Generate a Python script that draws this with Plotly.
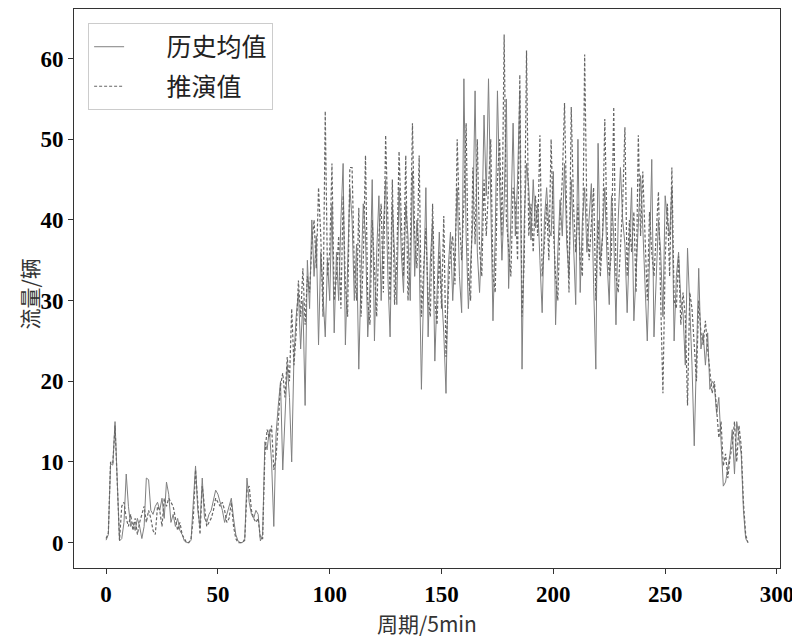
import plotly.graph_objects as go

# ---- data ----
hist_mean = [
    0.3, 1.0, 9.8, 9.6, 15.0, 7.0, 0.2, 0.5, 2.5, 8.5,
    4.5, 2.0, 2.5, 1.5, 3.0, 2.0, 0.5, 2.0, 8.0, 7.8,
    4.0, 3.5, 4.5, 5.0, 4.0, 5.5, 3.0, 7.5, 6.0, 2.5,
    3.5, 2.0, 3.0, 1.5, 1.0, 0.2, 0.0, 0.0, 0.3, 5.0,
    9.5, 4.0, 2.0, 8.0, 3.0, 2.5, 3.5, 4.0, 5.5, 6.5,
    6.0, 5.0, 4.0, 2.5, 3.5, 4.5, 5.5, 3.0, 1.0, 0.2,
    0.0, 0.0, 0.5, 8.0, 5.0, 3.5, 3.0, 4.0, 3.5, 0.2,
    1.0, 12.5, 11.5, 14.0, 10.0, 2.0, 13.5, 17.0, 20.0, 9.0,
    16.0, 22.0, 18.0, 10.0, 23.0, 28.0, 31.0, 24.0, 30.0, 17.0,
    35.0, 29.0, 40.0, 33.0, 38.0, 24.5, 36.0, 30.0, 25.5, 35.0,
    30.0, 42.0, 26.0, 36.0, 30.0, 40.0, 47.0, 24.5, 35.0, 44.0,
    40.0, 30.0, 37.0, 21.5, 33.0, 42.0, 38.0, 25.5, 32.0, 45.0,
    25.0, 36.0, 43.0, 30.0, 39.0, 45.0, 33.0, 25.5, 42.0, 35.0,
    29.5, 44.0, 36.0, 31.0, 42.0, 38.0, 30.0, 46.0, 33.0, 40.0,
    36.0, 19.0, 30.0, 44.0, 25.5, 35.0, 40.0, 22.5, 31.0, 38.5,
    31.0, 26.0, 18.5, 34.0, 38.5, 30.0, 36.0, 44.0, 33.0, 28.5,
    57.5, 38.0, 29.0, 35.0, 40.0, 56.0, 36.0, 31.0, 38.0, 53.0,
    43.0, 57.5, 40.0, 27.5, 38.0, 56.0, 44.0, 35.0, 42.0, 55.0,
    31.5, 40.0, 52.0, 38.0, 45.0, 56.0, 21.5, 40.0, 47.0, 44.0,
    37.5, 45.0, 39.0, 42.0, 35.0, 28.5, 40.0, 44.0, 39.0, 38.0,
    46.0, 27.0, 36.0, 42.5, 38.0, 47.0, 37.0, 33.0, 45.0, 38.0,
    29.5, 50.0, 31.0, 40.0, 44.0, 36.0, 40.0, 44.5, 32.0, 21.5,
    49.5, 35.0, 38.0, 44.0, 35.0, 29.5, 43.0, 38.0, 27.0, 40.0,
    46.5, 40.0, 37.0, 28.5, 37.0, 44.0, 27.5, 33.0, 40.0, 45.5,
    39.0, 33.0, 25.0, 35.0, 47.5, 25.5, 34.0, 40.0, 36.0, 28.0,
    43.0, 40.0, 38.0, 44.0, 25.0, 33.0, 36.0, 30.0, 28.5, 22.0,
    36.5, 30.0, 22.0, 12.0, 24.0, 34.0, 24.0, 26.0, 22.0, 26.0,
    19.0, 20.0, 19.5, 16.0, 18.0, 12.0, 7.0, 7.5, 9.5, 11.0,
    14.0, 8.5, 15.0, 13.0, 11.0, 4.0, 0.5, 0.0,
]

deduced = [
    0.5, 1.2, 10.0, 9.8, 14.5, 6.0, 0.3, 4.5, 5.0, 3.0,
    2.0, 3.5, 1.5, 3.0, 1.0, 2.5, 3.5, 4.5, 2.5, 4.0,
    3.0, 1.5, 1.0, 4.5, 4.0, 2.0, 5.5, 4.5, 5.5, 5.0,
    4.5, 3.0, 1.5, 2.5, 1.0, 0.5, 0.0, 0.0, 0.5, 3.0,
    9.0, 5.0, 1.0, 7.0, 4.5, 2.0, 2.5, 3.0, 4.0, 5.5,
    5.0, 4.5, 5.0, 4.0, 2.5, 3.0, 5.0, 2.0, 0.5, 0.0,
    0.0, 0.0, 0.3, 6.5, 7.0, 4.0, 3.0, 2.5, 3.0, 0.5,
    0.5, 11.0, 14.0, 13.0, 14.5, 9.0, 10.5, 15.5, 19.5, 21.0,
    18.0, 23.0, 20.0, 29.0, 22.0, 26.0, 32.5, 28.0, 34.0, 27.0,
    33.0, 31.0, 37.0, 40.0, 34.0, 44.0, 38.0, 28.0, 53.5, 33.0,
    36.0, 47.0, 30.0, 33.0, 38.0, 29.0, 43.0, 32.0, 28.0, 46.5,
    46.5, 34.0, 30.0, 41.5, 28.0, 35.0, 48.0, 30.0, 27.0, 40.0,
    33.0, 28.0, 38.0, 42.0, 31.0, 50.5, 40.0, 30.0, 45.0, 29.5,
    35.0, 48.5, 40.0, 33.0, 48.0, 30.0, 36.0, 52.0, 38.0, 34.0,
    48.0, 28.0, 34.0, 39.0, 30.0, 28.0, 42.0, 30.0, 27.0, 36.0,
    29.0, 40.5, 23.0, 31.0, 36.0, 38.0, 32.0, 50.0, 40.0, 35.0,
    42.0, 52.0, 33.0, 30.0, 46.5, 37.0, 50.0, 36.5, 33.0, 45.0,
    38.0, 44.0, 50.0, 33.0, 31.0, 45.0, 50.0, 38.0, 63.0, 40.0,
    36.0, 33.0, 44.0, 42.0, 35.0, 58.0, 28.0, 35.0, 61.0, 38.0,
    42.0, 36.0, 43.0, 38.0, 50.5, 33.0, 37.0, 42.0, 35.0, 50.0,
    39.0, 33.0, 30.0, 40.0, 45.0, 54.5, 40.0, 31.0, 54.0, 42.0,
    36.0, 42.0, 35.0, 33.0, 60.5, 40.5, 35.0, 39.0, 44.0, 30.0,
    40.0, 33.0, 38.0, 52.5, 39.0, 33.0, 36.0, 54.0, 33.0, 31.0,
    36.0, 42.0, 51.5, 33.0, 40.0, 36.0, 41.0, 31.0, 50.5, 38.0,
    46.0, 37.0, 30.0, 41.0, 36.0, 33.0, 38.0, 43.5, 30.0, 18.5,
    35.0, 42.0, 33.0, 46.5, 30.0, 29.0, 35.5, 27.0, 31.0, 28.0,
    17.0, 31.0, 29.0, 24.0, 20.0, 30.0, 26.0, 24.5, 27.5, 24.0,
    21.0, 18.5, 20.0, 17.0, 13.0, 15.0, 9.5, 11.0, 8.0, 10.5,
    12.0, 15.0, 10.0, 14.5, 12.0, 5.0, 1.0, 0.0,
]

periods = list(range(len(hist_mean)))
series_names = ["历史均值", "推演值"]
x_title = "周期/5min"
y_title = "流量/辆"
x_ticks = [0, 50, 100, 150, 200, 250, 300]
y_ticks = [0, 10, 20, 30, 40, 50, 60]

pad = "\u2003\u2002"  # widen the gap between legend line and label

fig = go.Figure()
fig.add_trace(go.Scatter(
    x=periods, y=hist_mean, mode="lines", name=pad + series_names[0], legendgroup="a",
    line=dict(color="#808080", width=1),
))
fig.add_trace(go.Scatter(
    x=periods, y=deduced, mode="lines", name=pad + series_names[1], legendgroup="b",
    line=dict(color="#666666", width=1.2, dash="3px,2px"),
))

n = len(periods) - 1
ymax = max(max(hist_mean), max(deduced))
axis_common = dict(
    showline=True, linecolor="#333333", linewidth=1, mirror=True,
    ticks="outside", ticklen=5, tickwidth=1, tickcolor="#333333",
    showgrid=False, zeroline=False, automargin=False,
    tickfont=dict(family="Liberation Serif", size=23, color="black", weight="bold"),
)
fig.update_xaxes(range=[-0.05 * n, n * 1.05], tickvals=x_ticks, **axis_common)
fig.update_yaxes(range=[-0.05 * ymax, ymax * 1.05], tickvals=y_ticks, **axis_common)

title_font = dict(family="Noto Sans CJK SC", size=21, color="#333333")
fig.add_annotation(text=x_title, xref="paper", yref="paper", x=0.5, y=0,
                   xanchor="center", yanchor="middle", yshift=-55,
                   showarrow=False, font=title_font)
fig.add_annotation(text=y_title, xref="paper", yref="paper", x=0, y=0.5,
                   xanchor="center", yanchor="middle", xshift=-46, yshift=-6,
                   textangle=-90, showarrow=False, font=title_font)

# the page adds an 8px body margin, so the figure is sized to fit inside the window
fig.update_layout(
    width=792, height=630,
    margin=dict(l=66, r=20, t=1, b=70),
    paper_bgcolor="white", plot_bgcolor="white",
    showlegend=True,
    legend=dict(
        x=0.02, y=0.975, xanchor="left", yanchor="top",
        bgcolor="white", bordercolor="#cccccc", borderwidth=1,
        font=dict(family="Noto Sans CJK SC", size=25, color="#222222"),
        tracegroupgap=4,
    ),
)
fig.write_html("out.html")
